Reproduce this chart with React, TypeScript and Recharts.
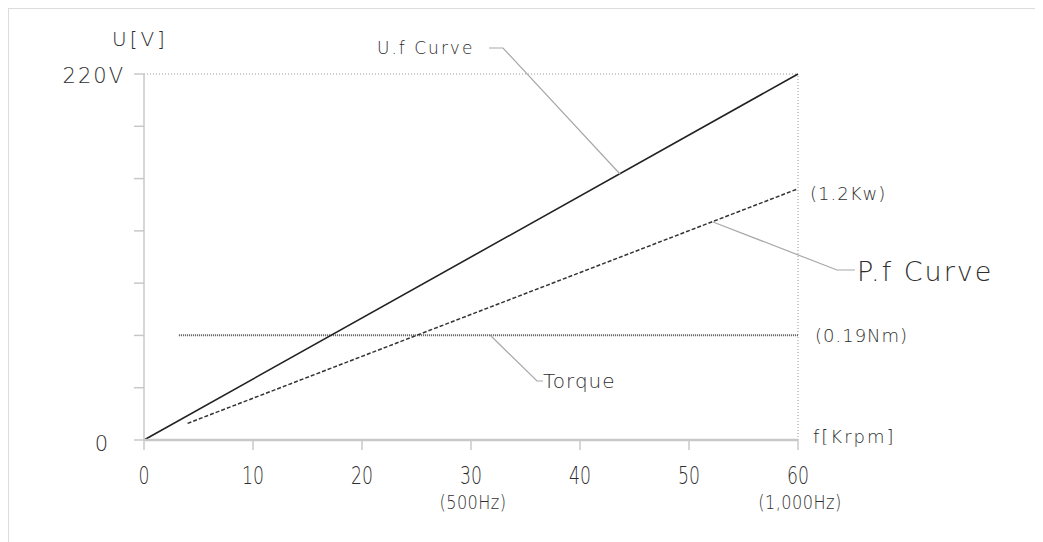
import React from "react";
import {
  LineChart,
  Line,
  XAxis,
  YAxis,
  ReferenceLine,
} from "recharts";

// U.f curve: voltage vs speed (Krpm)
const ufCurve = [
  { f: 0, v: 0 },
  { f: 60, v: 220 },
];

// P.f curve (power, drawn on the voltage scale)
const pfCurve = [
  { f: 4, v: 10 },
  { f: 60, v: 151 },
];

// Torque, constant
const torqueCurve = [
  { f: 3.2, v: 63 },
  { f: 60, v: 63 },
];

const xTicks = [0, 10, 20, 30, 40, 50, 60];
const xSubLabels: Record<number, string> = { 30: "(500Hz)", 60: "(1,000Hz)" };
const yTicks = [0, 31.43, 62.86, 94.29, 125.71, 157.14, 188.57, 220];
const yLabels: Record<number, string> = { 0: "0", 220: "220V" };

const W = 1035;
const H = 534;
const AXIS = "#c8c8c8";
const LEADER = "#a8a8a8";
const FONT = "'DejaVu Sans', sans-serif";
const TEXT = "#2e2e2e";
const THIN = 300;

function XTick({ x, y, payload }: any) {
  const sub = xSubLabels[payload.value];
  return (
    <g>
      <text
        x={x}
        y={y + 26}
        textAnchor="middle"
        dominantBaseline="central"
        fontFamily={FONT}
        fontWeight={THIN}
        fontSize={24}
        fill={TEXT}
        transform={`translate(${x},0) scale(0.72,1) translate(${-x},0)`}
      >
        {payload.value}
      </text>
      {sub && (
        <text
          x={x + 2}
          y={y + 53}
          textAnchor="middle"
          dominantBaseline="central"
          fontFamily={FONT}
          fontWeight={THIN}
          fontSize={19}
          letterSpacing={0.5}
          fill={TEXT}
          transform={`translate(${x + 2},0) scale(0.85,1) translate(${-x - 2},0)`}
        >
          {sub}
        </text>
      )}
    </g>
  );
}

function YTick({ x, y, payload }: any) {
  const label = yLabels[payload.value];
  if (!label) return null;
  const isTop = payload.value === 220;
  return (
    <text
      x={isTop ? x - 7 : x - 22}
      y={isTop ? y + 2 : y + 4}
      textAnchor="end"
      dominantBaseline="central"
      fontFamily={FONT}
      fontWeight={THIN}
      fontSize={21}
      letterSpacing={2}
      fill={TEXT}
    >
      {label}
    </text>
  );
}

function Annotations() {
  const t = (x: number, y: number, s: string, size: number, ls = 2) => (
    <text
      x={x}
      y={y}
      dominantBaseline="central"
      fontFamily={FONT}
      fontWeight={THIN}
      fontSize={size}
      letterSpacing={ls}
      fill={TEXT}
    >
      {s}
    </text>
  );
  return (
    <svg
      width={W}
      height={H}
      style={{ position: "absolute", left: 0, top: 0, pointerEvents: "none" }}
    >
      {t(104, 31, "U[V]", 20, 3)}
      {t(369, 40, "U.f Curve", 17, 2)}
      <polyline points="481,40 495,40 612,166" fill="none" stroke={LEADER} strokeWidth={1.2} />
      {t(802, 185, "(1.2Kw)", 18, 1)}
      <polyline points="705,214 829,262 847,262" fill="none" stroke={LEADER} strokeWidth={1.2} />
      {t(849, 263, "P.f Curve", 27, 2)}
      {t(807, 327, "(0.19Nm)", 18, 1)}
      <polyline points="482,327 529,373 535,373" fill="none" stroke={LEADER} strokeWidth={1.2} />
      {t(535, 373, "Torque", 20, 1)}
      {t(805, 428, "f[Krpm]", 18, 2)}
    </svg>
  );
}

export default function App() {
  return (
    <div style={{ position: "relative", width: W, height: H }}>
      <div
        style={{
          position: "absolute",
          left: -1,
          top: -1,
          width: W + 10,
          height: H + 10,
          borderTop: "2px solid #dcdcdc",
          borderLeft: "2px solid #dcdcdc",
        }}
      />
      <LineChart
        width={W}
        height={H}
        margin={{ top: 66, right: 245, left: 76, bottom: 72 }}
        style={{ position: "absolute", left: 0, top: 0 }}
      >
        <XAxis
          type="number"
          dataKey="f"
          domain={[0, 60]}
          ticks={xTicks}
          height={30}
          tickSize={10}
          tickMargin={0}
          axisLine={{ stroke: AXIS, strokeWidth: 2.5 }}
          tickLine={{ stroke: AXIS, strokeWidth: 1.5 }}
          tick={<XTick />}
          allowDuplicatedCategory={false}
        />
        <YAxis
          type="number"
          dataKey="v"
          domain={[0, 220]}
          ticks={yTicks}
          width={60}
          tickSize={10}
          tickMargin={2}
          axisLine={{ stroke: AXIS, strokeWidth: 1.5 }}
          tickLine={{ stroke: AXIS, strokeWidth: 1.5 }}
          tick={<YTick />}
          interval={0}
        />
        <ReferenceLine y={220} stroke="#9a9a9a" strokeDasharray="1 2" />
        <ReferenceLine x={60} stroke="#9a9a9a" strokeDasharray="1 2" />
        <Line
          data={torqueCurve}
          dataKey="v"
          stroke="#555"
          strokeWidth={2}
          strokeDasharray="1 1"
          dot={false}
          isAnimationActive={false}
        />
        <Line
          data={pfCurve}
          dataKey="v"
          stroke="#333"
          strokeWidth={1.5}
          strokeDasharray="4 2"
          dot={false}
          isAnimationActive={false}
        />
        <Line
          data={ufCurve}
          dataKey="v"
          stroke="#222"
          strokeWidth={1.6}
          dot={false}
          isAnimationActive={false}
        />
      </LineChart>
      <Annotations />
    </div>
  );
}
